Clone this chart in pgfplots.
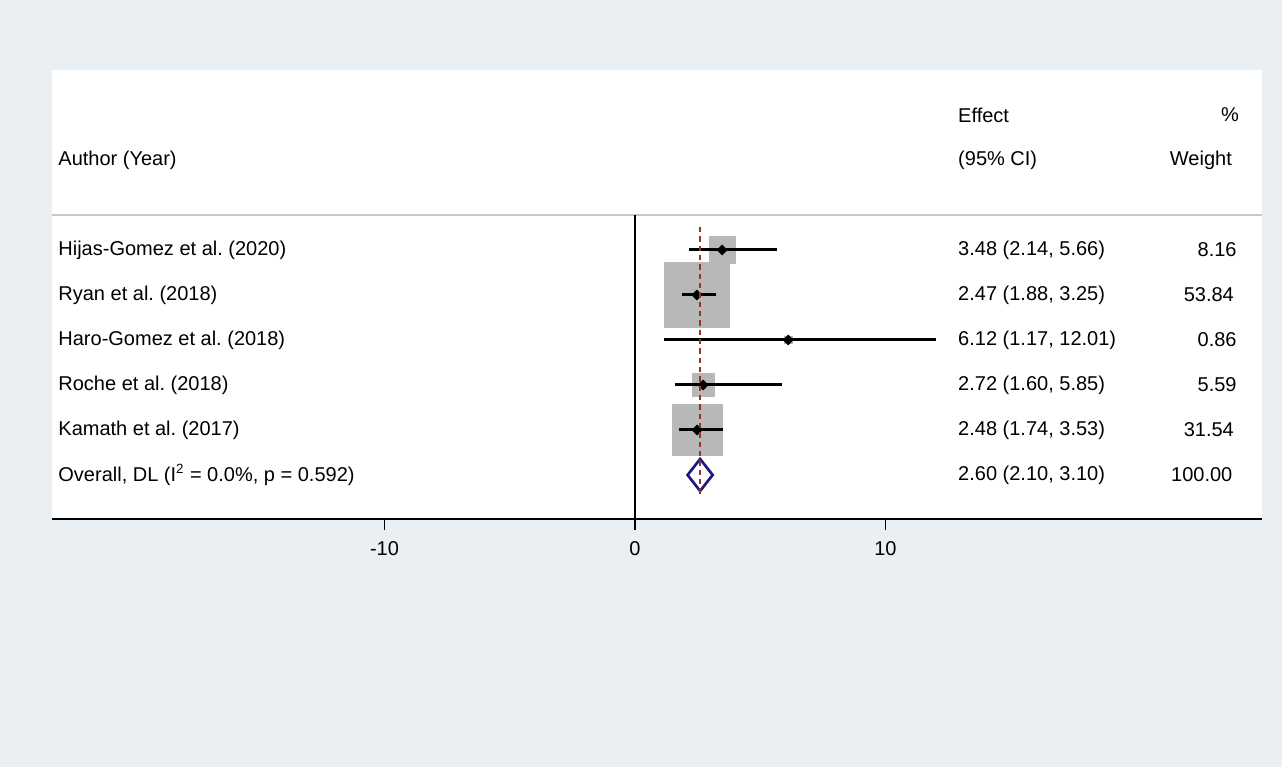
\documentclass[border=0pt]{standalone}
\usepackage{pgfplots}
\pgfplotsset{compat=1.18}
\usepackage{pgfplotstable}
\usepackage{fontspec}
\setmainfont{Liberation Sans}
\frenchspacing
\definecolor{bg}{RGB}{233,239,243}
\definecolor{boxgray}{RGB}{184,184,184}
\definecolor{hdrline}{RGB}{200,200,200}
\definecolor{refred}{RGB}{150,50,50}
\definecolor{navyd}{RGB}{26,26,128}
\newcommand{\tf}{\fontsize{12}{14}\selectfont}

% row es lo-err(minus) hi-err(plus) weight box side (px)
\pgfplotstableread{
row es em ep w side
1 3.48 1.34 2.18 8.16 27
2 2.47 0.59 0.78 53.84 66
3 6.12 4.95 5.89 0.86 8
4 2.72 1.12 3.13 5.59 23
5 2.48 0.74 1.05 31.54 51
}\studies

\begin{document}
\begin{tikzpicture}[every node/.style={inner sep=0pt, font=\tf}]
\fill[bg] (0pt,0pt) rectangle (769.2pt,460.2pt);
\begin{axis}[
  at={(31.2pt,148.8pt)}, anchor=south west,
  scale only axis, width=726pt, height=269.4pt,
  xmin=-23.273, xmax=25.03, ymin=-3, ymax=6.978,
  y dir=reverse,
  clip=false, clip mode=individual,
  axis background/.style={fill=white},
  axis x line=bottom, axis y line=none,
  x axis line style={-, black, line width=1.2pt},
  xtick={-10,0,10}, xticklabels={-10,0,10},
  xtick align=outside,
  major tick length=6.6pt,
  tick style={black, line width=0.8pt},
  ytick=\empty,
  xticklabel style={font=\tf, text=black, inner sep=0pt, yshift=-6.5pt},
]
% header separator
\addplot[hdrline, line width=1.2pt] coordinates {(-23.273,0.222) (25.03,0.222)};
% zero line
\addplot[black, line width=1.2pt] coordinates {(0,0.222) (0,6.978)};
% weight boxes
\addplot[scatter, only marks, mark=square*,
  scatter/use mapped color={draw=boxgray, fill=boxgray},
  visualization depends on={\thisrow{side} \as \side},
  scatter/@pre marker code/.append style={/tikz/mark size=0.3*\side-0.2}]
  table[x=es, y=row] {\studies};
% CIs and point estimates
\addplot[only marks, mark=square*, mark size=2.1pt, mark options={rotate=45}, black,
  error bars/.cd, x dir=both, x explicit, error mark=none,
  error bar style={line width=1.8pt, black}]
  table[x=es, y=row, x error plus=ep, x error minus=em] {\studies};
% overall diamond
\addplot[navyd, line width=1.6pt, fill=white] coordinates {(2.10,6) (2.60,5.645) (3.10,6) (2.60,6.355) (2.10,6)} -- cycle;
% overall reference line
\addplot[refred, line width=1pt, dash pattern=on 3.2pt off 2.4pt] coordinates {(2.60,0.49) (2.60,6.44)};

% headers
\node[anchor=west] at (axis cs:-23.03,-1) {Author (Year)};
\node[anchor=west] at (axis cs:12.89,-2) {Effect};
\node[anchor=west] at (axis cs:12.89,-1) {(95\% CI)};
\node[anchor=east] at (axis cs:24.12,-2) {\%};
\node[anchor=east] at (axis cs:23.84,-1) {Weight};
% study labels
\node[anchor=west] at (axis cs:-23.03,1) {Hijas-Gomez et al. (2020)};
\node[anchor=west] at (axis cs:-23.03,2) {Ryan et al. (2018)};
\node[anchor=west] at (axis cs:-23.03,3) {Haro-Gomez et al. (2018)};
\node[anchor=west] at (axis cs:-23.03,4) {Roche et al. (2018)};
\node[anchor=west] at (axis cs:-23.03,5) {Kamath et al. (2017)};
\node[anchor=west] at (axis cs:-23.03,6) {Overall, DL (I\textsuperscript{2} = 0.0\%, p = 0.592)};
% effects
\node[anchor=west] at (axis cs:12.89,1) {3.48 (2.14, 5.66)};
\node[anchor=west] at (axis cs:12.89,2) {2.47 (1.88, 3.25)};
\node[anchor=west] at (axis cs:12.89,3) {6.12 (1.17, 12.01)};
\node[anchor=west] at (axis cs:12.89,4) {2.72 (1.60, 5.85)};
\node[anchor=west] at (axis cs:12.89,5) {2.48 (1.74, 3.53)};
\node[anchor=west] at (axis cs:12.89,6) {2.60 (2.10, 3.10)};
% weights
\node[anchor=east] at (axis cs:24.03,1) {8.16};
\node[anchor=east] at (axis cs:23.92,2) {53.84};
\node[anchor=east] at (axis cs:24.03,3) {0.86};
\node[anchor=east] at (axis cs:24.03,4) {5.59};
\node[anchor=east] at (axis cs:23.92,5) {31.54};
\node[anchor=east] at (axis cs:23.86,6) {100.00};
\end{axis}
\end{tikzpicture}
\end{document}
